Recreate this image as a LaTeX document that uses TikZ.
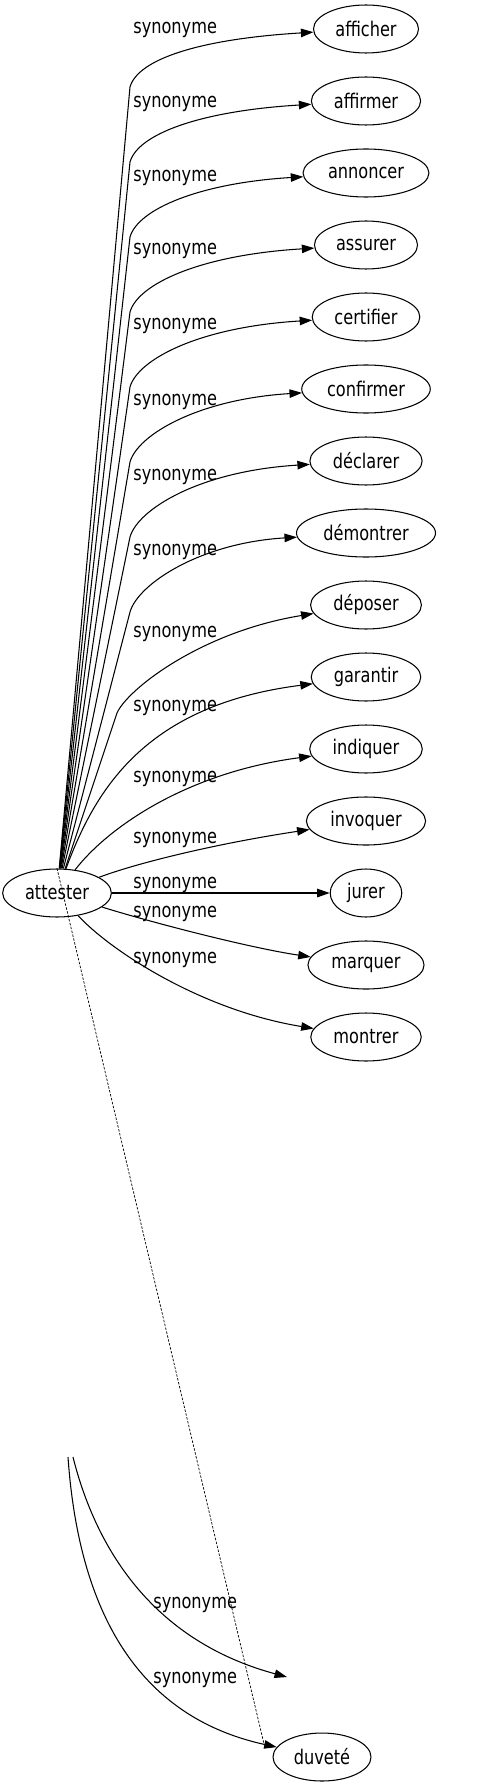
\documentclass[tikz,border=0pt]{standalone}
\usepackage{fontspec}
\setmainfont{DejaVu Sans}
\usepackage{tikz}
\usetikzlibrary{arrows.meta}
\usetikzlibrary{shapes.geometric}

\begin{document}
\begin{tikzpicture}[x=0.02cm, y=-0.02cm,
	mot/.style={draw, ellipse, line width=0.6pt, minimum height=0.768cm, inner xsep=0.13cm, inner ysep=0pt, yscale=1.25, transform shape, font=\fontsize{9.2}{11}\selectfont},
	etiq/.style={anchor=base west, inner sep=0pt, yscale=1.25, transform shape, font=\fontsize{9.2}{11}\selectfont},
	fleche/.style={->, >={Triangle[length=0.25cm, width=0.17cm]}, line width=0.6pt},
	pointille/.style={line width=0.4pt, dash pattern=on 0.05cm off 0.03cm}]
	\useasboundingbox (0,0) rectangle (503,1787);

	%mots
	\node[mot] (attester) at (57,893) {attester};
	\node[mot] (afficher) at (366,29) {afficher};
	\node[mot] (affirmer) at (366,101) {affirmer};
	\node[mot] (annoncer) at (366,173) {annoncer};
	\node[mot] (assurer) at (366,245) {assurer};
	\node[mot] (certifier) at (366,317) {certifier};
	\node[mot] (confirmer) at (366,389) {confirmer};
	\node[mot] (declarer) at (366,461) {déclarer};
	\node[mot] (demontrer) at (366,533) {démontrer};
	\node[mot] (deposer) at (366,605) {déposer};
	\node[mot] (garantir) at (366,677) {garantir};
	\node[mot] (indiquer) at (366,749) {indiquer};
	\node[mot] (invoquer) at (366,821) {invoquer};
	\node[mot] (jurer) at (366,893) {jurer};
	\node[mot] (marquer) at (366,965) {marquer};
	\node[mot] (montrer) at (366,1037) {montrer};
	\node[mot] (duvete) at (322,1757) {duveté};
	%
	% bouts libres (partie basse)
	\coordinate (vide) at (287,1677);
	\coordinate (depart1) at (73,1457);
	\coordinate (depart2) at (68,1457);
	\coordinate (pointe) at (264,1744);
	%
	% etiquettes
	\node[etiq] (e1) at (133,34) {synonyme};
	\node[etiq] (e2) at (133,108) {synonyme};
	\node[etiq] (e3) at (133,182) {synonyme};
	\node[etiq] (e4) at (133,255) {synonyme};
	\node[etiq] (e5) at (133,330) {synonyme};
	\node[etiq] (e6) at (133,405) {synonyme};
	\node[etiq] (e7) at (133,480) {synonyme};
	\node[etiq] (e8) at (133,555) {synonyme};
	\node[etiq] (e9) at (133,637) {synonyme};
	\node[etiq] (e10) at (133,711) {synonyme};
	\node[etiq] (e11) at (133,782) {synonyme};
	\node[etiq] (e12) at (133,843) {synonyme};
	\node[etiq] (e13) at (133,888) {synonyme};
	\node[etiq] (e14) at (133,917) {synonyme};
	\node[etiq] (e15) at (133,963) {synonyme};
	\node[etiq] (e16) at (153,1608) {synonyme};
	\node[etiq] (e17) at (153,1683) {synonyme};
	%
	% aretes
	\draw[fleche] (attester) -- (130,87) .. controls +(8,-28) and (200,39) .. (afficher); % afficher
	\draw[fleche] (attester) -- (130,162) .. controls +(8,-28) and (200,111) .. (affirmer); % affirmer
	\draw[fleche] (attester) -- (130,237) .. controls +(8,-28) and (200,183) .. (annoncer); % annoncer
	\draw[fleche] (attester) -- (130,312) .. controls +(8,-28) and (200,255) .. (assurer); % assurer
	\draw[fleche] (attester) -- (130,387) .. controls +(8,-28) and (200,327) .. (certifier); % certifier
	\draw[fleche] (attester) -- (130,462) .. controls +(8,-28) and (200,399) .. (confirmer); % confirmer
	\draw[fleche] (attester) -- (130,537) .. controls +(8,-28) and (200,471) .. (declarer); % declarer
	\draw[fleche] (attester) -- (130,612) .. controls +(8,-28) and (200,543) .. (demontrer); % demontrer
	\draw[fleche] (attester) -- (117,713) .. controls (127,690) and (200,632) .. (deposer); % deposer
	\draw[fleche] (attester) .. controls (95,790) and (145,705) .. (garantir); % garantir
	\draw[fleche] (attester) .. controls (110,825) and (190,772) .. (indiquer); % indiquer
	\draw[fleche] (attester) .. controls (140,862) and (220,843) .. (invoquer); % invoquer
	\draw[fleche] (attester) -- (jurer); % jurer
	\draw[fleche] (attester) .. controls (150,922) and (250,948) .. (marquer); % marquer
	\draw[fleche] (attester) .. controls (110,950) and (200,1010) .. (montrer); % montrer
	\draw[pointille] (attester.north) -- (pointe); % trait vers duvete
	\draw[fleche] (depart1) .. controls (95,1545) and (150,1640) .. (vide); % bas, bout vide
	\draw[fleche] (depart2) .. controls (78,1600) and (130,1715) .. (duvete); % bas, duvete
\end{tikzpicture}
\end{document}
